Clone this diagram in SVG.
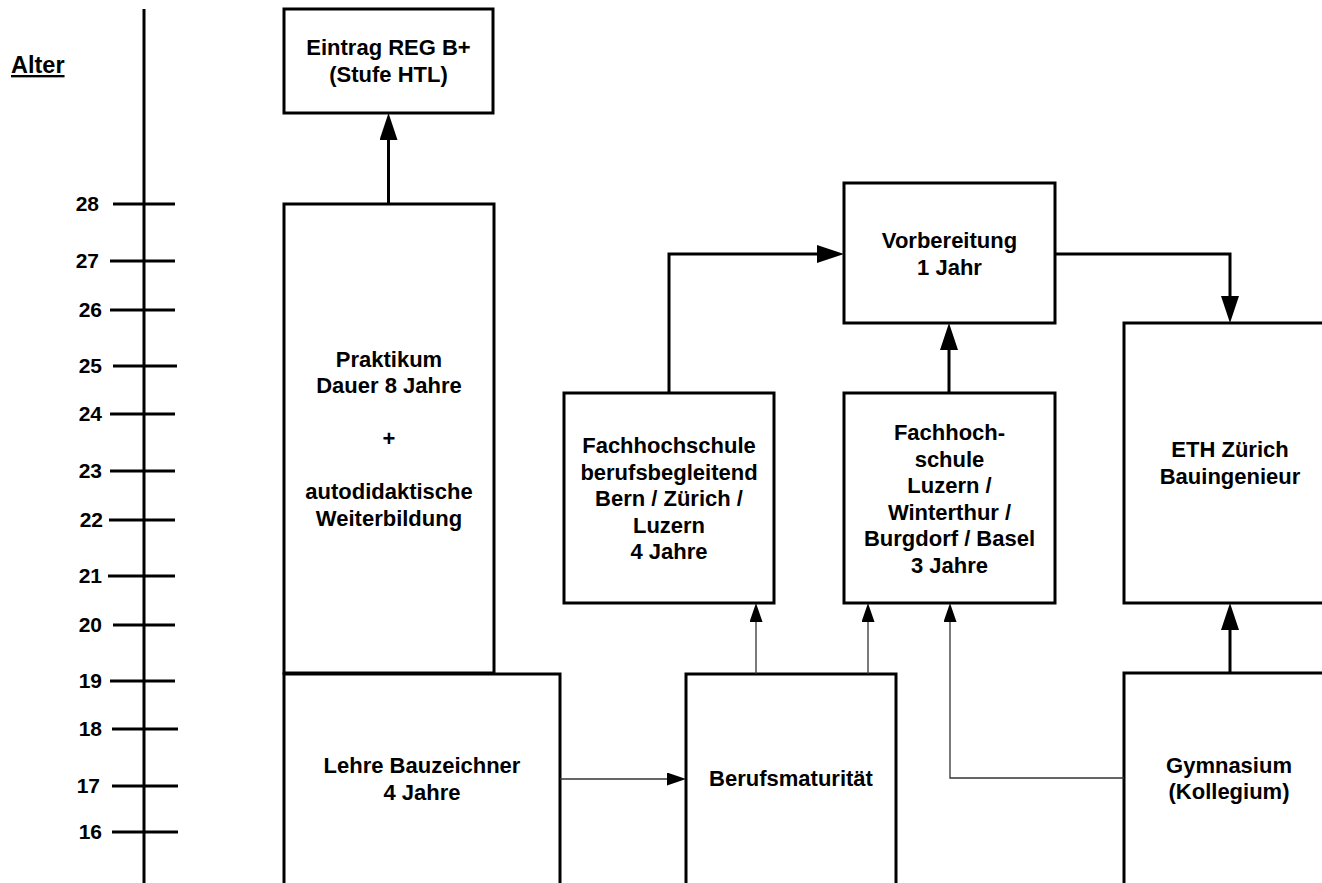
<svg xmlns="http://www.w3.org/2000/svg" width="1322" height="883" viewBox="0 0 1322 883">
<style>
  .box{fill:#fff;stroke:#000;stroke-width:3}
  .t{font-family:"Liberation Sans",Arial,sans-serif;font-weight:bold;font-size:22px;fill:#000;text-anchor:middle}
  .n{font-family:"Liberation Sans",Arial,sans-serif;font-weight:bold;font-size:21px;fill:#000;text-anchor:end}
  .tick{stroke:#000;stroke-width:3}
  .thick{fill:none;stroke:#000;stroke-width:3}
  .thin{fill:none;stroke:#333;stroke-width:1.3}
</style>
<defs>
  <marker id="ah" markerUnits="userSpaceOnUse" markerWidth="28" markerHeight="20" refX="0" refY="9" orient="auto">
    <path d="M0,0 L27,9 L0,18 z" fill="#000"/>
  </marker>
  <marker id="ahs" markerUnits="userSpaceOnUse" markerWidth="20" markerHeight="14" refX="0" refY="6.5" orient="auto">
    <path d="M0,0 L19,6.5 L0,13 z" fill="#000"/>
  </marker>
</defs>
<rect width="1322" height="883" fill="#fff"/>

<g id="axis">
  <line x1="144" y1="9" x2="144" y2="883" class="tick"/>
  <text x="11" y="73" font-family="Liberation Sans, Arial, sans-serif" font-weight="bold" font-size="23.5" text-decoration="underline">Alter</text>
  <line x1="113" y1="204" x2="175" y2="204" class="tick"/><text x="99" y="211" class="n">28</text>
  <line x1="110" y1="261" x2="175" y2="261" class="tick"/><text x="99" y="268" class="n">27</text>
  <line x1="110" y1="310" x2="175" y2="310" class="tick"/><text x="102" y="317" class="n">26</text>
  <line x1="113" y1="366" x2="177" y2="366" class="tick"/><text x="102" y="373" class="n">25</text>
  <line x1="110" y1="414" x2="175" y2="414" class="tick"/><text x="102" y="421" class="n">24</text>
  <line x1="110" y1="471" x2="175" y2="471" class="tick"/><text x="102" y="478" class="n">23</text>
  <line x1="109" y1="520" x2="175" y2="520" class="tick"/><text x="103" y="527" class="n">22</text>
  <line x1="108" y1="576" x2="175" y2="576" class="tick"/><text x="102" y="583" class="n">21</text>
  <line x1="113" y1="625" x2="175" y2="625" class="tick"/><text x="102" y="632" class="n">20</text>
  <line x1="110" y1="681" x2="175" y2="681" class="tick"/><text x="102" y="688" class="n">19</text>
  <line x1="112" y1="729" x2="178" y2="729" class="tick"/><text x="102" y="736" class="n">18</text>
  <line x1="112" y1="786" x2="178" y2="786" class="tick"/><text x="100" y="793" class="n">17</text>
  <line x1="112" y1="832" x2="178" y2="832" class="tick"/><text x="102" y="839" class="n">16</text>
</g>

<g id="eintrag">
  <rect x="284" y="9" width="209" height="104" class="box"/>
  <text class="t" x="388.5" y="55">Eintrag REG B+</text>
  <text class="t" x="388.5" y="81.5">(Stufe HTL)</text>
</g>

<g id="praktikum">
  <rect x="284" y="204" width="210" height="469" class="box"/>
  <text class="t" x="389" y="366.5">Praktikum</text>
  <text class="t" x="389" y="393">Dauer 8 Jahre</text>
  <text class="t" x="389" y="446">+</text>
  <text class="t" x="389" y="499">autodidaktische</text>
  <text class="t" x="389" y="525.5">Weiterbildung</text>
</g>

<g id="lehre">
  <rect x="284" y="674" width="276" height="211" class="box"/>
  <text class="t" x="422" y="773">Lehre Bauzeichner</text>
  <text class="t" x="422" y="799.5">4 Jahre</text>
</g>

<g id="berufsmaturitaet">
  <rect x="686" y="674" width="210" height="211" class="box"/>
  <text class="t" x="791" y="786">Berufsmaturität</text>
</g>

<g id="fh-berufsbegleitend">
  <rect x="564" y="393" width="210" height="210" class="box"/>
  <text class="t" x="669" y="453">Fachhochschule</text>
  <text class="t" x="669" y="479.5">berufsbegleitend</text>
  <text class="t" x="669" y="506">Bern / Zürich /</text>
  <text class="t" x="669" y="532.5">Luzern</text>
  <text class="t" x="669" y="559">4 Jahre</text>
</g>

<g id="fh-luzern">
  <rect x="844" y="393" width="211" height="210" class="box"/>
  <text class="t" x="949.5" y="440">Fachhoch-</text>
  <text class="t" x="949.5" y="466.5">schule</text>
  <text class="t" x="949.5" y="493">Luzern /</text>
  <text class="t" x="949.5" y="519.5">Winterthur /</text>
  <text class="t" x="949.5" y="546">Burgdorf / Basel</text>
  <text class="t" x="949.5" y="572.5">3 Jahre</text>
</g>

<g id="vorbereitung">
  <rect x="844" y="183" width="211" height="140" class="box"/>
  <text class="t" x="949.5" y="248">Vorbereitung</text>
  <text class="t" x="949.5" y="274.5">1 Jahr</text>
</g>

<g id="eth">
  <rect x="1124" y="323" width="220" height="280" class="box"/>
  <text class="t" x="1230" y="457">ETH Zürich</text>
  <text class="t" x="1230" y="483.5">Bauingenieur</text>
</g>

<g id="gymnasium">
  <rect x="1124" y="673" width="220" height="212" class="box"/>
  <text class="t" x="1229" y="772.5">Gymnasium</text>
  <text class="t" x="1229" y="799">(Kollegium)</text>
</g>

<g id="connectors">
  <path d="M388.5,204 V140" class="thick" marker-end="url(#ah)"/>
  <path d="M669,393 V254 H817" class="thick" marker-end="url(#ah)"/>
  <path d="M949,393 V350" class="thick" marker-end="url(#ah)"/>
  <path d="M1055,254 H1230 V296" class="thick" marker-end="url(#ah)"/>
  <path d="M1230,673 V630" class="thick" marker-end="url(#ah)"/>
  <path d="M560,779 H667" class="thin" marker-end="url(#ahs)"/>
  <path d="M756,674 V622" class="thin" marker-end="url(#ahs)"/>
  <path d="M868,674 V622" class="thin" marker-end="url(#ahs)"/>
  <path d="M1124,778 H950 V622" class="thin" marker-end="url(#ahs)"/>
</g>
</svg>
